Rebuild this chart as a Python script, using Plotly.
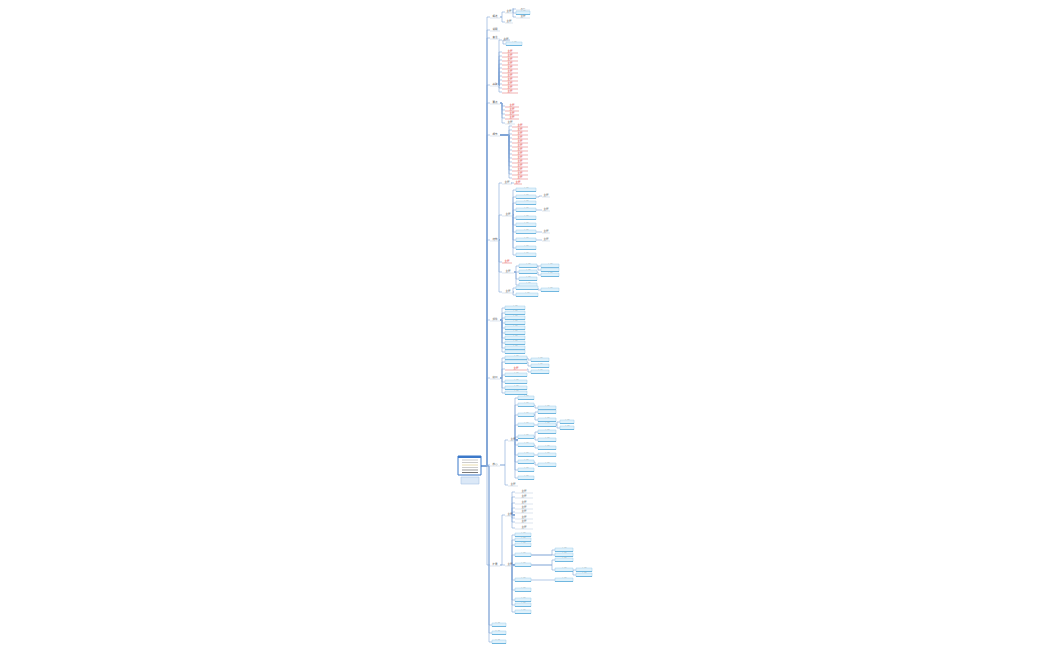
import plotly.graph_objects as go

# ---- mind-map data (rows, pixel-row estimates) ----
level1_labels = ["概述", "说明", "备注", "基础", "要点", "细节", "结构", "组件", "接口", "核心", "扩展", "附录一", "附录二", "附录三"]
level1_rows = [17, 30, 38, 85, 103, 135, 240, 320, 378, 465, 565, 625, 633, 642]
A_rows = [5, 9, 13, 17]
D_red_rows = [52, 56, 60, 64, 68, 72, 76, 80, 84, 88, 92]
E_red_rows = [106, 110, 114, 118]
F_red_rows = [126, 130, 134, 138, 142, 146, 150, 154, 158, 162, 166, 170, 174, 178]
G2_rows = [190, 197, 203, 210, 218, 225, 232, 240, 248, 255]
G2_subs = [(1, 196), (3, 210), (6, 232), (7, 240)]
G3_rows = [266, 272, 279, 285]
G3_subs = [(0, 266), (0, 270), (1, 275)]
G4_rows = [288, 295]
H_rows = [308, 313, 318, 323, 328, 333, 338, 343, 348, 352]
I_rows = [358, 362, 369, 375, 382, 388, 393]
I_red = [2]
I_subs = [(0, 360), (1, 366), (2, 372)]
J_rows = [398, 405, 415, 425, 437, 445, 455, 462, 470, 478]
J_subs = [(1, 408), (2, 412), (2, 420), (3, 425), (4, 432), (4, 440), (5, 448), (6, 455), (7, 465)]
J_subsubs = [(3, 422), (3, 428)]
K1_rows = [492, 497, 503, 508, 512, 518, 522, 528]
K2_rows = [535, 540, 545, 555, 565, 580, 590, 600, 605, 612]
K2_subs = [(3, 550), (3, 555), (4, 560), (4, 570), (5, 580)]
K2_subsubs = [(3, 570), (3, 575)]

nodes = []  # parent, x, y, w, kind, label
def add(p, x, y, w, kind, label="主题"):
    nodes.append((p, x, y, w, kind, label))
    return len(nodes) - 1

root = add(-1, 459, 466, 22, "root", "中心主题")
L1 = []
for i, (lab, r) in enumerate(zip(level1_labels, level1_rows)):
    L1.append(add(root, 490 if i < 11 else 492, r, 10 if i < 11 else 14, "p" if i < 11 else "b", lab))
a1 = add(L1[0], 505, 12, 8, "p"); [add(a1, 516, r, 14, "b" if k == 2 else "p") for k, r in enumerate(A_rows)]
add(L1[0], 505, 22, 8, "p")
d1 = add(L1[3], 502, 40, 8, "p"); add(d1, 506, 44, 16, "b")
for r in D_red_rows: add(L1[3], 502, r, 16, "r")
for r in E_red_rows: add(L1[4], 505, r, 14, "r")
add(L1[4], 505, 123, 10, "p")
for r in F_red_rows: add(L1[5], 512, r, 16, "r")
g1 = add(L1[6], 502, 183, 10, "p"); add(g1, 514, 183, 8, "r")
g2 = add(L1[6], 502, 215, 12, "p")
g2c = [add(g2, 516, r, 20, "b") for r in G2_rows]
for k, r in G2_subs: add(g2c[k], 542, r, 8, "p")
add(L1[6], 502, 262, 10, "r")
g3 = add(L1[6], 502, 272, 12, "p")
g3c = [add(g3, 519, r, 18, "b") for r in G3_rows]
for k, r in G3_subs: add(g3c[k], 541, r, 18, "b")
g4 = add(L1[6], 502, 292, 12, "p")
g4c = [add(g4, 516, r, 22, "b") for r in G4_rows]
add(g4c[0], 541, 290, 18, "b")
for r in H_rows: add(L1[7], 505, r, 20, "b")
ic = [add(L1[8], 505, r, 22, "r" if k in I_red else "b") for k, r in enumerate(I_rows)]
for k, r in I_subs: add(ic[k], 531, r, 18, "b")
j1 = add(L1[9], 508, 440, 10, "p")
jc = [add(j1, 518, r, 16, "b") for r in J_rows]
js = [add(jc[k], 538, r, 18, "b") for k, r in J_subs]
for k, r in J_subsubs: add(js[k], 560, r, 14, "b")
add(L1[9], 508, 485, 10, "p")
k1 = add(L1[10], 505, 515, 10, "p")
for r in K1_rows: add(k1, 515, r, 18, "p")
k2 = add(L1[10], 505, 565, 10, "p")
kc = [add(k2, 515, r, 16, "b") for r in K2_rows]
ks = [add(kc[k], 555, r, 18, "b") for k, r in K2_subs]
for k, r in K2_subsubs: add(ks[k], 576, r, 16, "b")

# ---- drawing ----
ex, ey = [], []
for p, x, y, w, kind, lab in nodes:
    if p < 0:
        continue
    px, py, pw = nodes[p][1], nodes[p][2], nodes[p][3]
    bx = x - 3
    ex += [px + pw, bx, bx, x, None]
    ey += [py, py, y, y, None]

shapes = []
tx, ty, tt, tc = [], [], [], []
for p, x, y, w, kind, lab in nodes:
    if kind == "root":
        shapes.append(dict(type="rect", x0=x - 1, x1=x + w, y0=y - 10, y1=y + 9, fillcolor="white",
                           line=dict(color="#3b78c9", width=1)))
        shapes.append(dict(type="rect", x0=x - 1, x1=x + w, y0=y - 10, y1=y - 8, fillcolor="#3b78c9", line_width=0))
        for k, c in enumerate(["#ccc", "#ccc", "#e8dcb0", "#ccc", "#999", "#777"]):
            shapes.append(dict(type="line", x0=x + 3, x1=x + w - 3, y0=y - 6 + k * 2.5, y1=y - 6 + k * 2.5,
                               line=dict(color=c, width=1)))
        shapes.append(dict(type="rect", x0=x + 2, x1=x + w - 2, y0=y + 11, y1=y + 18, fillcolor="#dbe8f7",
                           line=dict(color="#a9c4e6", width=0.6)))
        tx += [x + w / 2, x + w / 2]; ty += [y, y + 14]; tt += [lab, "副标题"]; tc += ["#333", "#2a5ea8"]
        continue
    if kind in ("b", "y"):
        shapes.append(dict(type="rect", x0=x, x1=x + w, y0=y - 2, y1=y + 1.5,
                           fillcolor="#dff1fb" if kind == "b" else "#f5ecc8",
                           line=dict(color="#9ccfe8" if kind == "b" else "#d8c88a", width=0.5)))
        shapes.append(dict(type="line", x0=x, x1=x + w, y0=y + 1.5, y1=y + 1.5, line=dict(color="#4aa3d6", width=0.7)))
    else:
        shapes.append(dict(type="line", x0=x, x1=x + w, y0=y + 1, y1=y + 1,
                           line=dict(color="#e06060" if kind == "r" else "#b8c8dc", width=0.5)))
    tx.append(x + w / 2); ty.append(y - 0.5); tt.append(lab)
    tc.append("#e03030" if kind == "r" else "#555")

fig = go.Figure()
fig.add_trace(go.Scatter(x=ex, y=ey, mode="lines", line=dict(color="#7fa6d6", width=0.6), hoverinfo="skip"))
fig.add_trace(go.Scatter(x=tx, y=ty, mode="text", text=tt, textfont=dict(size=2.5, color=tc,
                         family="Noto Sans CJK SC"), hoverinfo="skip"))
fig.update_layout(width=1050, height=650, margin=dict(l=0, r=0, t=0, b=0, pad=0), showlegend=False,
                  plot_bgcolor="white", paper_bgcolor="white", shapes=shapes,
                  xaxis=dict(range=[8, 1058], visible=False, fixedrange=True),
                  yaxis=dict(range=[658, 8], visible=False, fixedrange=True))
fig.write_html("out.html")
